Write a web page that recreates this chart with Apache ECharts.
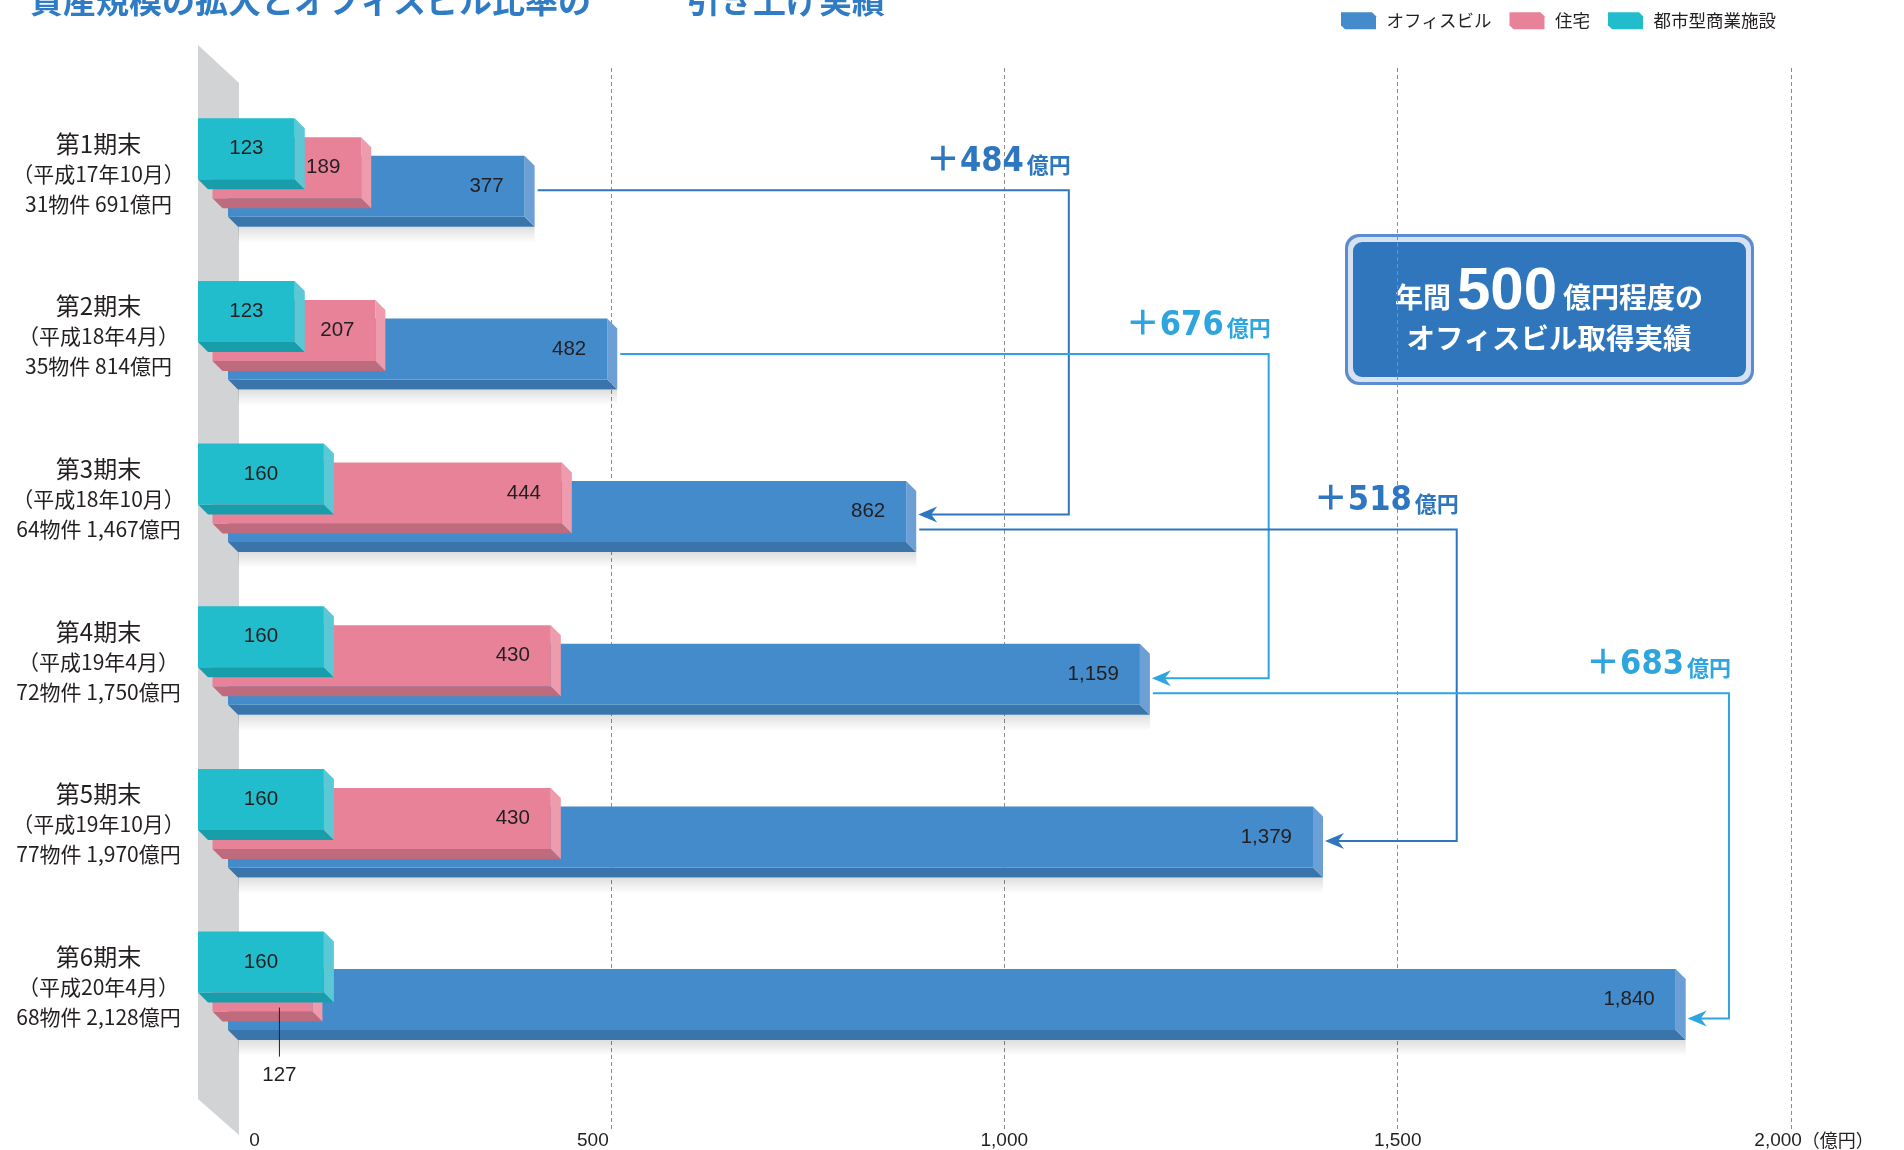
<!DOCTYPE html>
<html>
<head>
<meta charset="utf-8">
<script src="https://cdn.jsdelivr.net/npm/echarts@6/dist/echarts.min.js"></script>
<style>
html, body { margin: 0; padding: 0; background: #fff; }
#main { width: 1904px; height: 1150px; }
</style>
</head>
<body>
<div id="main"></div>
<script>
// 期ごとのデータ（億円）
const periods = ['第1期末', '第2期末', '第3期末', '第4期末', '第5期末', '第6期末']
const periodDates = ['（平成17年10月）', '（平成18年4月）', '（平成18年10月）', '（平成19年4月）', '（平成19年10月）', '（平成20年4月）']
const periodTotals = ['31物件 691億円', '35物件 814億円', '64物件 1,467億円', '72物件 1,750億円', '77物件 1,970億円', '68物件 2,128億円']
const office = [377, 482, 862, 1159, 1379, 1840]
const residential = [189, 207, 444, 430, 430, 127]
const retail = [123, 123, 160, 160, 160, 160]
const xTicks = [0, 500, 1000, 1500, 2000]
// オフィスビル増加額（from期 → to期）
const stepFrom = [0, 1, 2, 3]
const stepTo = [2, 3, 4, 5]
const stepLabels = ['＋484', '＋676', '＋518', '＋683']

const FONT_JP = '"Noto Sans CJK JP", sans-serif'
const FONT_NUM = '"Liberation Sans", Arial, "Noto Sans CJK JP", sans-serif'
const FONT_COND = '"Liberation Sans Narrow", "DejaVu Sans Condensed", "Noto Sans CJK JP", sans-serif'

// 3Dバーの見た目
const D = 10
const H = 61
const barLook = {
  office: { dx: 10.5, dy: -11.85, front: '#438bca', bottom: '#3974aa', side: '#6c9fd6' },
  residential: { dx: -5, dy: -30.35, front: '#e88298', bottom: '#bf6b7e', side: '#ee9bad' },
  retail: { dx: -19.5, dy: -49.35, front: '#21bdcd', bottom: '#189eaa', side: '#5bc9d5' }
}
// 矢印の見た目
const stepColors = ['#2e77c0', '#2ea5de', '#2e77c0', '#2ea5de']
const stepTurnAt = [1082, 1336, 1575, 1921]
const stepOutDy = [4, 5, 18, 19]
const stepInDy = [3, 4, 4, 19]

const myChart = echarts.init(document.getElementById('main'))

function box (look, x0, x1, y0, extra) {
  const y1 = y0 + H
  const children = []
  if (extra && extra.shadow) {
    children.push({
      type: 'rect',
      shape: { x: x0 + D, y: y1 + D, width: x1 - x0, height: 16 },
      style: {
        fill: new echarts.graphic.LinearGradient(0, 0, 0, 1, [
          { offset: 0, color: 'rgba(0,0,0,0.13)' },
          { offset: 1, color: 'rgba(0,0,0,0)' }
        ])
      }
    })
  }
  children.push({
    type: 'polygon',
    shape: { points: [[x0, y1], [x1, y1], [x1 + D, y1 + D], [x0 + D, y1 + D]] },
    style: { fill: look.bottom }
  })
  children.push({
    type: 'polygon',
    shape: { points: [[x1, y0], [x1 + D, y0 + D], [x1 + D, y1 + D], [x1, y1]] },
    style: { fill: look.side }
  })
  children.push({
    type: 'rect',
    shape: { x: x0, y: y0, width: x1 - x0, height: H },
    style: { fill: look.front }
  })
  return children
}

function barRenderer (kind) {
  const look = barLook[kind]
  return function (params, api) {
    const val = api.value(0)
    const cat = api.value(1)
    const start = api.coord([0, cat])
    const end = api.coord([val, cat])
    const x0 = start[0] + look.dx
    const x1 = end[0] + look.dx
    const y0 = start[1] + look.dy
    const children = box(look, x0, x1, y0, { shadow: kind === 'office' })
    const txt = { font: '20.5px ' + FONT_NUM, fill: '#231f20', verticalAlign: 'middle' }
    if (kind === 'office') {
      children.push({ type: 'text', style: Object.assign({ text: val.toLocaleString('en-US'), x: x1 - 21, y: y0 + H / 2, align: 'right' }, txt) })
    } else if (kind === 'retail') {
      children.push({ type: 'text', style: Object.assign({ text: String(val), x: (x0 + x1) / 2, y: y0 + H / 2, align: 'center' }, txt) })
    } else if (val < retail[params.dataIndex]) {
      // 都市型商業施設に隠れる場合は下に引き出し線
      const lx = x1 - 33
      children.push({ type: 'line', shape: { x1: lx, y1: y0 + H - 4, x2: lx, y2: y0 + H + 45 }, style: { stroke: '#231f20', lineWidth: 1 } })
      children.push({ type: 'text', style: Object.assign({ text: String(val), x: lx, y: y0 + H + 64, align: 'center' }, txt) })
    } else {
      children.push({ type: 'text', style: Object.assign({ text: String(val), x: x1 - 38, y: y0 + H / 2, align: 'center' }, txt) })
    }
    return { type: 'group', children }
  }
}

function stepRenderer (params, api) {
  const i = params.dataIndex
  const from = stepFrom[i]
  const to = stepTo[i]
  const a = api.coord([office[from], from])
  const b = api.coord([office[to], to])
  const tx = api.coord([stepTurnAt[i], 0])[0]
  const look = barLook.office
  const sx = a[0] + look.dx + D + 3
  const sy = a[1] + look.dy + H / 2 + stepOutDy[i]
  const ex = b[0] + look.dx + D + 2
  const ey = b[1] + look.dy + H / 2 + stepInDy[i]
  const c = stepColors[i]
  return {
    type: 'group',
    children: [
      { type: 'polyline', shape: { points: [[sx, sy], [tx, sy], [tx, ey], [ex + 12, ey]] }, style: { stroke: c, lineWidth: 2, fill: null } },
      { type: 'polygon', shape: { points: [[ex, ey], [ex + 19, ey - 8], [ex + 13, ey], [ex + 19, ey + 8]] }, style: { fill: c } },
      {
        type: 'text',
        style: {
          text: '{n|' + stepLabels[i] + '}{u|億円}',
          x: tx + 2,
          y: sy - 11,
          align: 'right',
          verticalAlign: 'bottom',
          rich: {
            n: { font: 'bold 34px ' + FONT_COND, fill: c, verticalAlign: 'bottom', lineHeight: 36 },
            u: { font: 'bold 22px ' + FONT_JP, fill: c, verticalAlign: 'bottom', lineHeight: 36, padding: [0, 0, 4, 3] }
          }
        }
      }
    ]
  }
}

const option = {
  animation: false,
  backgroundColor: '#fff',
  legend: {
    data: ['オフィスビル', '住宅', '都市型商業施設'],
    left: 1336,
    top: 7,
    itemWidth: 36,
    itemHeight: 17,
    itemGap: 18,
    icon: 'path://M0,0 L31,0 L35,4 L35,17 L4,17 L0,13 Z',
    textStyle: { fontFamily: FONT_JP, fontSize: 17.5, color: '#231f20', padding: [0, 0, 0, 5] }
  },
  grid: [
    { left: 217.5, right: 112.9, top: 68, bottom: 21 },
    { left: 217.5, right: 112.9, top: 86.3, height: 976 }
  ],
  xAxis: [
    {
      gridIndex: 0,
      type: 'value',
      min: 0,
      max: 2000,
      interval: 500,
      axisLine: { show: false },
      axisTick: { show: false },
      splitLine: { showMinLine: false, lineStyle: { color: '#8c8c8c', type: [4, 3], width: 1 } },
      axisLabel: {
        margin: 2,
        color: '#231f20',
        fontFamily: FONT_NUM,
        fontSize: 19,
        formatter: function (v) {
          const s = v.toLocaleString('en-US')
          if (v === xTicks[0]) return '{z|' + s + '}'
          if (v === xTicks[1]) return '{f|' + s + '}'
          if (v === xTicks[xTicks.length - 1]) return '{m|' + s + '}{u|（億円）}'
          return s
        },
        rich: {
          z: { fontFamily: FONT_NUM, fontSize: 19, color: '#231f20', padding: [0, 0, 0, 74] },
          f: { fontFamily: FONT_NUM, fontSize: 19, color: '#231f20', padding: [0, 36, 0, 0] },
          m: { fontFamily: FONT_NUM, fontSize: 19, color: '#231f20', padding: [0, 0, 0, 46] },
          u: { fontFamily: FONT_JP, fontSize: 18, color: '#231f20' }
        }
      }
    },
    { gridIndex: 1, type: 'value', min: 0, max: 2000, show: false }
  ],
  yAxis: [
    { gridIndex: 0, type: 'value', min: 0, max: 1, show: false },
    {
      gridIndex: 1,
      type: 'category',
      inverse: true,
      data: periods,
      axisLine: { show: false },
      axisTick: { show: false },
      axisLabel: {
        margin: 119,
        align: 'center',
        padding: [12, 0, 0, 0],
        formatter: function (v, i) {
          return '{a|' + periods[i] + '}\n{b|' + periodDates[i] + '}\n{b|' + periodTotals[i] + '}'
        },
        rich: {
          a: { fontFamily: FONT_JP, fontSize: 24, color: '#231f20', lineHeight: 30, align: 'center' },
          b: { fontFamily: FONT_JP, fontSize: 21, color: '#231f20', lineHeight: 30, align: 'center' }
        }
      }
    }
  ],
  graphic: [
    {
      type: 'polygon',
      z: 1,
      silent: true,
      shape: { points: [[198, 45], [239, 83], [239, 1135], [198, 1099]] },
      style: { fill: '#d1d3d5' }
    },
    {
      type: 'text',
      z: 1,
      left: 30,
      top: -16,
      style: { text: '資産規模の拡大とオフィスビル比率の', font: 'bold 33px ' + FONT_JP, fill: '#2f7bc4' }
    },
    {
      type: 'text',
      z: 1,
      left: 687,
      top: -16,
      style: { text: '引き上げ実績', font: 'bold 33px ' + FONT_JP, fill: '#2f7bc4' }
    },
    {
      type: 'group',
      z: 5,
      left: 1345,
      top: 234,
      children: [
        { type: 'rect', shape: { x: 0, y: 0, width: 409, height: 151, r: 14 }, style: { fill: '#5b8ccd' } },
        { type: 'rect', shape: { x: 3, y: 3, width: 403, height: 145, r: 12 }, style: { fill: '#d6e2f3' } },
        { type: 'rect', shape: { x: 8, y: 8, width: 393, height: 135, r: 9 }, style: { fill: '#2f76bc' } },
        {
          type: 'text',
          style: {
            text: '{a|年間}{b|500}{a|億円程度の}',
            x: 204,
            y: 58,
            align: 'center',
            verticalAlign: 'middle',
            rich: {
              a: { font: 'bold 28px ' + FONT_JP, fill: '#fff', padding: [10, 6, 0, 6] },
              b: { font: 'bold 60px ' + FONT_NUM, fill: '#fff' }
            }
          }
        },
        {
          type: 'text',
          style: { text: 'オフィスビル取得実績', x: 204, y: 104, align: 'center', verticalAlign: 'middle', font: 'bold 28.5px ' + FONT_JP, fill: '#fff' }
        }
      ]
    }
  ],
  series: [
    {
      name: 'オフィスビル',
      type: 'custom',
      xAxisIndex: 1,
      yAxisIndex: 1,
      itemStyle: { color: barLook.office.front },
      renderItem: barRenderer('office'),
      encode: { x: 0, y: 1 },
      data: office.map((v, i) => [v, i])
    },
    {
      name: '住宅',
      type: 'custom',
      xAxisIndex: 1,
      yAxisIndex: 1,
      itemStyle: { color: barLook.residential.front },
      renderItem: barRenderer('residential'),
      encode: { x: 0, y: 1 },
      data: residential.map((v, i) => [v, i])
    },
    {
      name: '都市型商業施設',
      type: 'custom',
      xAxisIndex: 1,
      yAxisIndex: 1,
      itemStyle: { color: barLook.retail.front },
      renderItem: barRenderer('retail'),
      encode: { x: 0, y: 1 },
      data: retail.map((v, i) => [v, i])
    },
    {
      name: 'steps',
      type: 'custom',
      xAxisIndex: 1,
      yAxisIndex: 1,
      silent: true,
      z: 3,
      renderItem: stepRenderer,
      encode: { x: 0, y: 1 },
      data: stepTo.map(t => [office[t], t])
    }
  ]
}
myChart.setOption(option)
</script>
</body>
</html>
